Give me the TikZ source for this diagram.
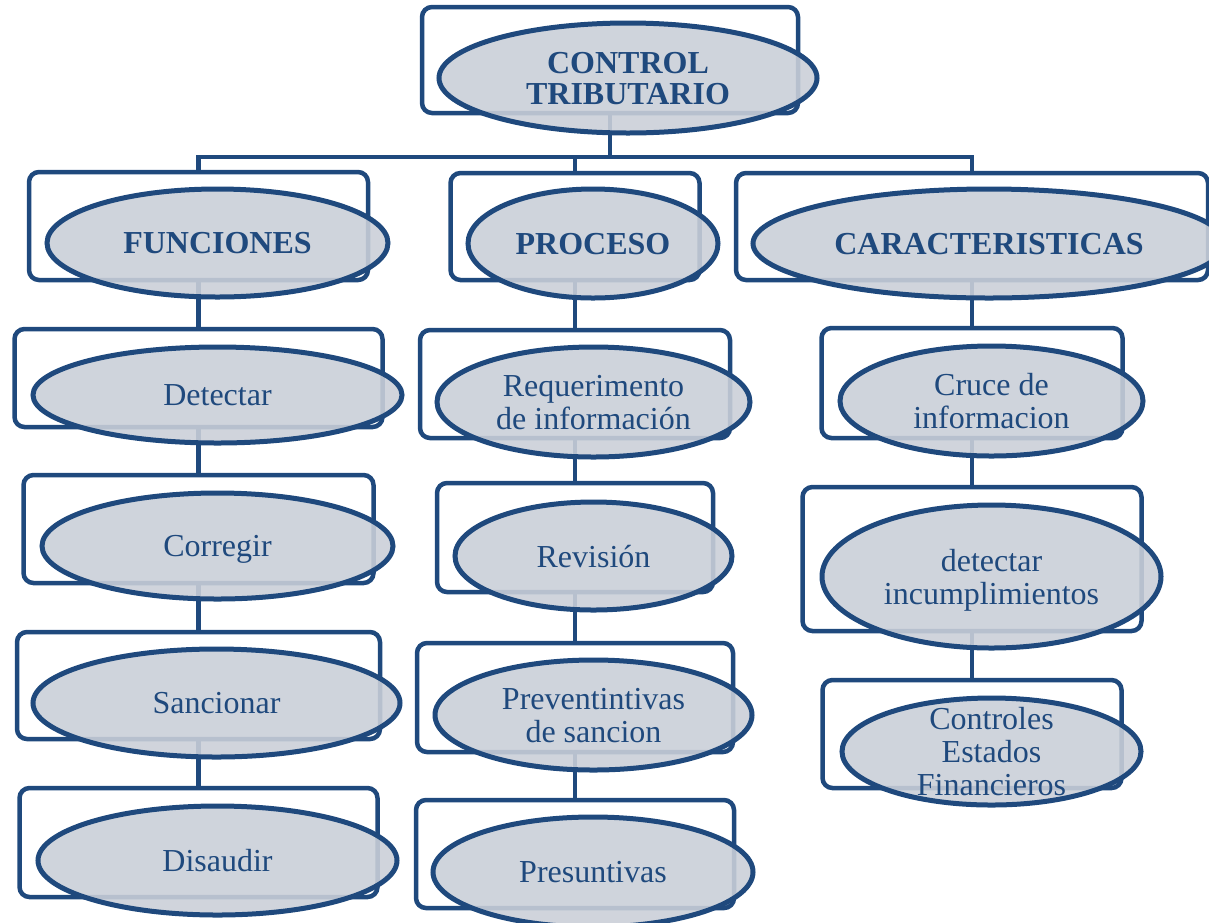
\documentclass[tikz,border=0pt]{standalone}
\usepackage{fontspec}
\setmainfont{Liberation Serif}
\usetikzlibrary{shapes.geometric}

\definecolor{navy}{RGB}{31,73,125}
\definecolor{ovalfill}{RGB}{202,207,216}

\tikzset{
  frame/.style={rectangle, draw=navy, line width=4.5pt, fill=white,
    rounded corners=10pt, inner sep=0pt},
  oval/.style={ellipse, draw=navy, line width=5pt, fill=ovalfill,
    fill opacity=0.89, inner sep=0pt},
  lbl/.style={text=navy, align=center, inner sep=0pt, text depth=0pt,
    font=\fontsize{32}{33}\selectfont},
  head/.style={lbl, font=\bfseries\fontsize{32}{31}\selectfont},
  link/.style={draw=navy, line width=4.5pt}
}

\begin{document}
\begin{tikzpicture}[x=1pt, y=-1pt]
\useasboundingbox (0,0) rectangle (1209,922);

% ---- frames (back layer) ----
\node[frame, minimum width=376pt, minimum height=106pt] (root) at (610,60) {};

\node[frame, minimum width=339pt, minimum height=108pt] (fun)  at (198.5,226) {};
\node[frame, minimum width=368pt, minimum height=98pt]  (fun1) at (198.5,378) {};
\node[frame, minimum width=350pt, minimum height=108pt] (fun2) at (198.5,529) {};
\node[frame, minimum width=363pt, minimum height=107pt] (fun3) at (198.5,685.5) {};
\node[frame, minimum width=358pt, minimum height=109pt] (fun4) at (198.5,842.5) {};

\node[frame, minimum width=249pt, minimum height=107pt] (pro)  at (575,226.5) {};
\node[frame, minimum width=310pt, minimum height=108pt] (pro1) at (575,384) {};
\node[frame, minimum width=276pt, minimum height=109pt] (pro2) at (575,537.5) {};
\node[frame, minimum width=316pt, minimum height=109pt] (pro3) at (575,697.5) {};
\node[frame, minimum width=318pt, minimum height=108pt] (pro4) at (575,854) {};

\node[frame, minimum width=472pt, minimum height=107pt] (car)  at (972,226.5) {};
\node[frame, minimum width=301pt, minimum height=110pt] (car1) at (972,383) {};
\node[frame, minimum width=339pt, minimum height=144pt] (car2) at (972,559) {};
\node[frame, minimum width=299pt, minimum height=108pt] (car3) at (972,734) {};

% ---- connectors ----
\coordinate (bar) at (610,157);
\draw[link] (root.south) -- (bar);
\draw[link] (bar) -| (fun.north);
\draw[link] (bar) -| (pro.north);
\draw[link] (bar) -| (car.north);

\draw[link] (fun.south)  -- (fun1.north);
\draw[link] (fun1.south) -- (fun2.north);
\draw[link] (fun2.south) -- (fun3.north);
\draw[link] (fun3.south) -- (fun4.north);

\draw[link] (pro.south)  -- (pro1.north);
\draw[link] (pro1.south) -- (pro2.north);
\draw[link] (pro2.south) -- (pro3.north);
\draw[link] (pro3.south) -- (pro4.north);

\draw[link] (car.south)  -- (car1.north);
\draw[link] (car1.south) -- (car2.north);
\draw[link] (car2.south) -- (car3.north);

% ---- ovals (front layer) ----
\node[oval, minimum width=378pt, minimum height=110pt] (rootO) at (628,78) {};

\node[oval, minimum width=341pt, minimum height=108pt] (funO)  at (217.5,243) {};
\node[oval, minimum width=369pt, minimum height=96pt]  (fun1O) at (217.5,395) {};
\node[oval, minimum width=351pt, minimum height=106pt] (fun2O) at (217.5,546) {};
\node[oval, minimum width=367pt, minimum height=108pt] (fun3O) at (216.5,703) {};
\node[oval, minimum width=359pt, minimum height=109pt] (fun4O) at (217.5,860.5) {};

\node[oval, minimum width=250pt, minimum height=109pt] (proO)  at (593,243.5) {};
\node[oval, minimum width=313pt, minimum height=110pt] (pro1O) at (593.5,402) {};
\node[oval, minimum width=277pt, minimum height=108pt] (pro2O) at (593.5,556) {};
\node[oval, minimum width=317pt, minimum height=110pt] (pro3O) at (593.5,715) {};
\node[oval, minimum width=320pt, minimum height=110pt] (pro4O) at (593,872) {};

\node[oval, minimum width=472pt, minimum height=109pt] (carO)  at (989,243.5) {};
\node[oval, minimum width=303pt, minimum height=110pt] (car1O) at (991.5,401) {};
\node[oval, minimum width=339pt, minimum height=143pt] (car2O) at (991.5,576.5) {};
\node[oval, minimum width=299pt, minimum height=107pt] (car3O) at (991.5,751.5) {};

% ---- texts ----
\node[head] (rootT) at (rootO) {CONTROL\\TRIBUTARIO};

\node[head] (funT)  at (funO)  {FUNCIONES};
\node[lbl]  (fun1T) at (fun1O) {Detectar};
\node[lbl]  (fun2T) at (fun2O) {Corregir};
\node[lbl]  (fun3T) at (fun3O) {Sancionar};
\node[lbl]  (fun4T) at (fun4O) {Disaudir};

\node[head] (proT)  at (proO)  {PROCESO};
\node[lbl]  (pro1T) at (pro1O) {Requerimento\\de información};
\node[lbl]  (pro2T) at (pro2O) {Revisión};
\node[lbl]  (pro3T) at (pro3O) {Preventintivas\\de sancion};
\node[lbl]  (pro4T) at (pro4O) {Presuntivas};

\node[head] (carT)  at (carO)  {CARACTERISTICAS};
\node[lbl]  (car1T) at (car1O) {Cruce de\\informacion};
\node[lbl]  (car2T) at (car2O) {detectar\\incumplimientos};
\node[lbl]  (car3T) at (car3O) {Controles\\Estados\\Financieros};
\end{tikzpicture}
\end{document}
